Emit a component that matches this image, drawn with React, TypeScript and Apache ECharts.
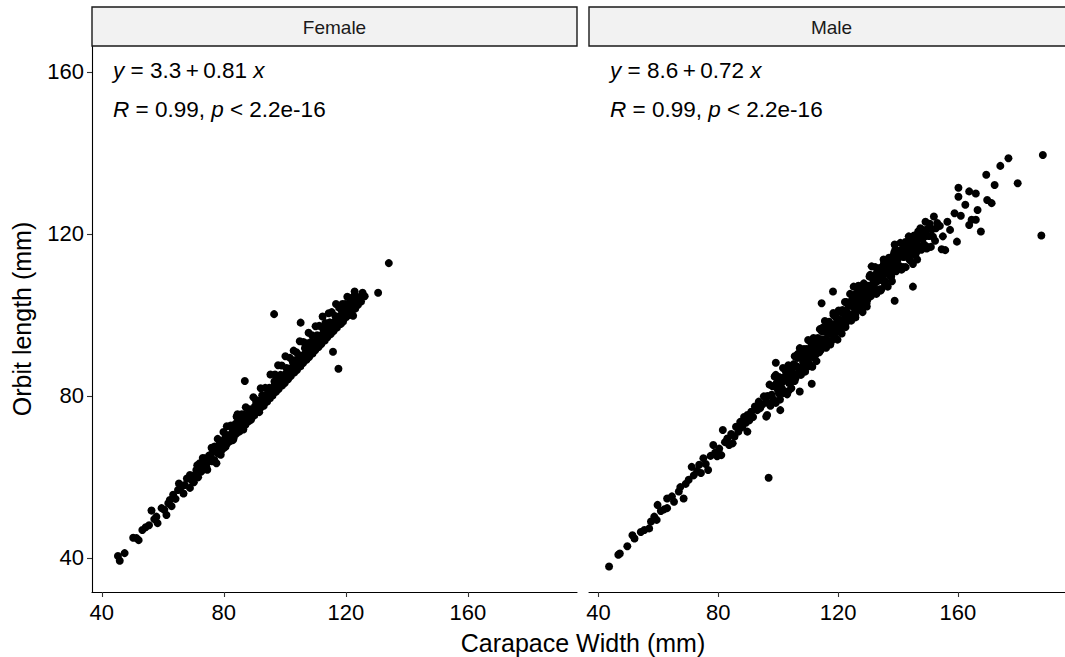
import React, { useEffect, useRef } from "react";
import * as echarts from "echarts";

const panels = ["Female", "Male"];
const xTicks = [40, 80, 120, 160];
const yTicks = [40, 80, 120, 160];
const intercepts = ["3.3", "8.6"];
const slopes = ["0.81", "0.72"];
const rValues = ["0.99", "0.99"];
const pValues = ["2.2e-16", "2.2e-16"];

const femalePoints: number[][] = [
  [45.3,40.5],[45.9,39.3],[47.5,41.2],[50.3,45.0],[51.4,44.9],[52.1,44.4],[53.3,46.9],[54.4,47.6],[55.5,48.1],[56.3,51.7],
  [57.2,49.6],[57.9,50.2],[58.3,48.6],[59.6,52.3],[60.5,51.9],[61.2,50.6],[61.8,53.5],[62.3,54.3],[62.9,52.8],[63.4,55.6],
  [64.2,54.6],[65.0,56.8],[65.3,58.4],[66.1,57.6],[66.8,55.9],[67.2,58.0],[67.9,59.6],[68.9,60.5],[68.9,57.3],[69.6,59.1],
  [70.3,60.4],[71.0,61.7],[71.6,59.9],[72.1,63.4],[72.8,61.6],[73.4,62.9],[73.8,64.6],[74.3,62.5],[74.9,63.8],[75.6,65.4],
  [76.2,63.9],[76.6,66.3],[77.0,67.5],[77.6,63.4],
  [78.2,65.8],[78.5,67.9],[78.7,68.9],[79.3,66.6],[79.6,68.8],[80.1,67.2],[80.4,69.5],[80.8,70.4],[81.2,68.3],[81.5,70.1],
  [82.1,68.9],[82.4,70.6],[82.7,72.0],[83.2,69.5],[83.5,71.8],[84.2,74.9],[84.0,70.6],[84.4,72.4],[84.7,74.3],[85.1,71.2],
  [85.6,73.4],[86.0,72.0],[86.3,74.0],[86.6,75.4],[86.9,83.7],[87.1,72.9],[87.5,74.8],[88.0,73.7],[88.3,75.9],[88.6,76.7],
  [89.1,74.5],[89.4,76.3],[90.0,75.2],[90.2,77.4],[90.6,78.6],[91.1,76.1],[91.4,78.0],[92.0,77.0],[92.3,78.8],[92.6,80.2],
  [93.1,77.6],[93.4,79.9],[94.0,78.6],[94.3,80.5],[94.6,81.8],[95.1,79.4],[95.5,81.6],[96.0,80.1],[96.3,82.2],[96.6,83.6],
  [96.5,100.2],[97.1,81.0],[97.4,83.1],[98.0,81.7],[98.2,83.9],[98.6,85.2],[99.1,82.6],[99.5,84.6],[100.0,83.2],[100.3,85.5],
  [100.6,86.9],[101.1,84.1],[101.4,86.4],[102.0,84.9],[102.3,87.0],[102.6,88.5],[103.1,85.8],[103.5,87.9],[104.0,86.4],[104.2,88.8],
  [104.6,90.1],[105.1,87.3],[105.2,98.1],[105.5,89.6],[106.0,88.1],[106.3,90.2],[106.6,91.8],[107.1,88.9],[107.5,91.1],[108.0,89.6],
  [108.2,92.0],[108.6,93.3],[109.1,90.5],[109.4,92.7],[110.0,91.3],[110.3,93.6],[110.6,95.0],[111.1,92.1],[111.5,94.2],[112.0,92.8],
  [112.2,95.1],[112.6,96.6],[113.1,93.7],[113.5,96.0],[114.0,94.5],[114.3,96.8],[114.6,98.1],[115.1,95.3],[115.5,97.4],[115.8,90.9],
  [116.0,96.0],[116.3,98.3],[116.6,99.7],[117.1,96.9],[117.4,99.1],[117.6,86.7],[118.0,97.7],[118.2,99.8],[118.6,101.2],[119.1,98.4],
  [119.5,100.6],[120.0,99.4],[120.3,101.3],[120.5,104.5],[120.6,102.6],[121.1,100.0],[121.5,102.2],[122.0,100.9],[122.4,99.8],[122.4,103.0],
  [122.9,105.8],[123.1,101.6],[123.5,103.7],[124.0,102.5],[124.4,104.4],[125.0,103.3],[125.5,105.5],[126.2,104.6],[130.6,105.5],[134.1,112.8],
  [70.2,58.7],[71.3,62.9],[72.5,61.3],[73.1,64.7],[74.6,61.8],[75.2,65.3],[76.0,67.2],[76.9,64.2],[77.3,66.3],[78.0,69.4],
  [79.0,65.5],[79.9,71.1],[80.6,67.5],[81.0,72.5],[81.8,69.8],[82.3,72.7],[83.0,69.1],[83.8,73.1],[84.5,75.5],[85.3,71.9],
  [85.9,75.5],[86.4,71.7],[87.2,77.2],[87.8,74.5],[88.4,76.4],[88.9,74.1],[89.7,79.7],[90.4,76.2],[90.9,78.9],[91.6,76.0],
  [92.1,81.9],[92.8,79.2],[93.6,82.0],[94.2,78.6],[94.9,82.0],[95.3,85.3],[95.8,81.4],[96.8,85.3],[97.3,81.7],[97.8,87.6],
  [98.4,84.6],[99.0,87.5],[99.8,84.0],[100.2,89.8],[100.9,86.2],[101.7,89.4],[102.1,85.6],[102.9,91.2],[103.3,88.8],[103.8,90.8],
  [104.4,88.0],[104.9,93.5],[105.7,89.9],[106.1,93.3],[106.8,89.5],[107.3,93.0],[107.8,95.6],[108.4,91.7],[108.9,95.0],[109.6,91.9],
  [110.1,97.2],[110.8,94.4],[111.3,97.3],[111.8,93.9],[112.4,99.6],[112.9,95.8],[113.3,98.0],[113.8,95.0],[114.4,100.4],[114.9,98.1],
  [115.4,100.7],[116.2,97.6],[116.8,102.7],[117.3,99.2],[117.8,101.8],[118.4,97.8],[118.9,102.7],[119.4,100.3],[119.8,102.7],[120.8,100.2],
  [121.3,104.2],[121.8,102.2],[122.7,104.6],[123.3,102.7]
];

const malePoints: number[][] = [
  [43.5,37.9],[46.6,40.8],[47.1,41.1],[49.6,42.9],[51.3,45.6],[52.0,44.8],[54.1,46.4],[55.3,46.9],[56.9,47.3],[57.5,49.0],
  [58.6,50.2],[59.4,49.4],[59.7,53.1],[60.8,51.6],[61.9,52.0],[62.9,52.3],[62.9,54.7],[64.5,55.2],[65.2,53.9],[66.8,56.4],
  [67.3,57.5],[68.4,54.7],[69.1,58.3],[70.1,59.3],[71.1,62.5],[71.8,60.4],[72.9,61.5],[73.6,63.0],[74.2,61.0],[75.0,64.6],
  [75.8,63.2],[76.6,61.7],[77.4,65.2],[78.3,67.9],[78.9,66.0],[79.6,65.1],[80.3,67.0],[81.0,65.4],[81.5,71.6],[82.2,68.6],
  [83.0,69.5],[83.6,67.9],[84.3,70.6],[84.8,68.3],[85.4,70.0],[85.9,72.4],[86.7,71.2],[87.3,73.6],[88.0,72.3],[88.6,74.8],
  [89.2,73.4],[89.7,75.3],[89.7,71.2],[90.4,74.0],[91.0,76.1],[91.6,74.8],[92.2,77.4],[93.0,76.5],[93.5,78.6],[94.0,77.0],
  [94.6,77.8],[95.2,79.9],[95.8,78.4],[96.3,75.3],[96.8,59.8],
  [96.0,74.9],[96.4,80.0],[96.7,78.3],[97.1,82.8],[97.4,77.6],[97.8,80.3],[98.1,82.4],[98.5,79.1],[98.8,84.8],[99.2,78.3],
  [99.5,83.2],[99.9,81.5],[100.2,84.7],[100.6,79.1],[100.9,83.5],[101.3,81.8],[101.6,86.9],[102.0,81.1],[102.3,84.2],[102.7,85.7],
  [103.0,80.4],[103.4,87.6],[103.7,84.3],[104.1,83.4],[104.4,81.9],[104.8,87.0],[105.1,85.3],[105.5,89.8],[105.8,84.5],[106.2,87.3],
  [106.5,89.4],[106.9,86.0],[107.2,91.8],[107.6,85.2],[107.9,90.1],[108.3,88.4],[108.6,91.6],[109.0,86.0],[109.3,90.3],[109.7,88.7],
  [110.0,93.8],[110.4,87.9],[110.7,91.1],[111.1,92.5],[111.4,87.2],[111.8,94.3],[112.1,91.1],[112.5,90.2],[112.8,88.6],[113.2,93.8],
  [113.5,92.0],[113.9,96.5],[114.2,91.3],[114.6,94.0],[114.9,96.1],[115.3,92.7],[115.6,98.5],[116.0,91.9],[116.3,96.8],[116.7,95.2],
  [117.0,98.3],[117.4,92.7],[117.7,97.1],[118.1,95.4],[118.4,100.5],[118.8,94.6],[119.1,97.8],[119.5,99.2],[119.8,93.9],[120.2,101.1],
  [120.5,97.8],[120.9,96.9],[121.2,95.4],[121.6,100.5],[121.9,98.7],[122.3,103.2],[122.6,98.0],[123.0,100.7],[123.3,102.8],[123.7,99.5],
  [124.0,105.2],[124.4,98.6],[124.7,103.6],[125.1,101.9],[125.4,105.0],[125.8,99.4],[126.1,103.8],[126.5,102.1],[126.8,107.2],[127.2,101.4],
  [127.5,104.5],[127.9,105.9],[128.2,100.7],[128.6,107.8],[128.9,104.5],[129.3,103.6],[129.6,102.1],[130.0,107.2],[130.3,105.4],[130.7,109.9],
  [131.0,104.7],[131.4,107.4],[131.7,109.5],[132.1,106.1],[132.4,111.8],[132.8,105.2],[133.1,110.2],[133.5,108.5],[133.8,111.6],[134.2,106.0],
  [134.5,110.3],[134.9,108.6],[135.2,113.7],[135.6,107.8],[135.9,110.9],[136.3,112.3],[136.6,107.0],[137.0,114.1],[137.3,110.8],[137.7,109.9],
  [138.0,108.3],[138.4,113.4],[138.7,111.6],[139.1,116.1],[139.4,110.8],[139.8,113.5],[140.1,115.6],[140.5,112.1],[140.8,117.8],[141.2,111.2],
  [141.5,116.1],[141.9,114.3],[142.2,117.4],[142.6,111.8],[142.9,116.1],[143.3,114.3],[143.6,119.4],[144.0,113.5],[144.3,116.6],[144.7,117.9],
  [145.0,112.6],[145.4,119.6],[145.7,116.3],[146.1,115.4],[146.4,113.7],[146.8,118.8],[147.1,117.0],[147.5,121.4],[147.8,116.1],[148.2,118.7],
  [148.5,120.8],[148.9,117.3],[149.2,123.0],[149.6,116.4],[149.9,121.2],[150.3,119.5],[150.6,122.5],[151.0,116.8],[151.3,121.1],[151.7,119.3],
  [152.0,124.3],[152.4,118.3],[152.7,121.4],[153.1,122.7],
  [100.5,83.0],[101.5,81.2],[102.5,86.3],[103.5,84.3],[104.5,86.9],[105.5,83.7],[106.5,90.3],[107.5,86.8],[108.5,88.9],[109.5,91.6],
  [110.5,87.4],[111.5,92.7],[112.5,92.8],[113.5,90.9],[114.5,96.0],[115.5,94.0],[116.5,96.5],[117.5,93.3],[118.5,99.9],[119.5,96.4],
  [120.5,98.5],[121.5,101.2],[122.5,97.0],[123.5,102.3],[124.5,102.4],[125.5,100.5],[126.5,105.6],[127.5,103.6],[128.5,106.1],[129.5,102.9],
  [130.5,109.5],[131.5,105.9],[132.5,108.0],[133.5,110.7],[134.5,106.4],[135.5,111.7],[136.5,111.7],[137.5,109.7],[138.5,114.7],[139.5,112.6],
  [140.5,114.9],[141.5,111.6],[142.5,118.0],[143.5,114.3],[144.5,116.3],
  [100.25,80.6],[100.75,84.5],[101.25,83.3],[101.75,80.7],[102.25,84.7],[102.75,83.8],[103.25,87.1],[103.75,83.1],[104.25,86.1],[104.75,84.9],
  [105.25,87.9],[105.75,84.4],[106.25,87.2],[106.75,90.4],[107.25,86.6],[107.75,89.5],[108.25,87.2],[108.75,91.1],[109.25,89.8],[109.75,87.2],
  [110.25,91.2],[110.75,90.3],[111.25,93.6],[111.75,89.5],[112.25,92.5],[112.75,91.3],[113.25,94.3],[113.75,90.8],[114.25,93.6],[114.75,96.8],
  [115.25,93.0],[115.75,95.9],[116.25,93.6],[116.75,97.5],[117.25,96.2],[117.75,93.6],[118.25,97.6],[118.75,96.7],[119.25,100.0],[119.75,95.9],
  [120.25,98.9],[120.75,97.7],[121.25,100.7],[121.75,97.2],[122.25,100.0],[122.75,103.2],[123.25,99.4],[123.75,102.3],[124.25,100.0],[124.75,103.9],
  [125.25,102.6],[125.75,100.0],[126.25,104.0],[126.75,103.1],[127.25,106.4],[127.75,102.3],[128.25,105.3],[128.75,104.1],[129.25,107.1],[129.75,103.6],
  [130.25,106.4],[130.75,109.6],[131.25,105.8],[131.75,108.6],[132.25,106.3],[132.75,110.2],[133.25,108.9],[133.75,106.3],[134.25,110.2],[134.75,109.3],
  [135.25,112.6],[135.75,108.4],[136.25,111.4],[136.75,110.1],[137.25,113.1],[137.75,109.5],[138.25,112.3],[138.75,115.4],[139.25,111.6],[139.75,114.4],
  [140.25,112.1],[140.75,115.9],[141.25,114.5],[141.75,111.8],[142.25,115.7],[142.75,114.8],[143.25,118.0],[143.75,113.8],[144.25,116.7],[144.75,115.4],
  [145.25,118.4],[145.75,114.8],[146.25,117.5],[146.75,120.6],[147.25,116.7],[147.75,119.5],[148.25,117.1],[148.75,120.9],[149.25,119.5],[149.75,116.8],
  [99.2,88.2],[99.2,85.2],[100.7,76.5],[103.4,81.2],[107.2,81.1],[111.2,83.0],[114.5,102.9],[118.3,105.8],[125.2,107.0],[131.2,112.0],
  [138.9,117.4],[138.9,103.5],[145.0,107.0],
  [154.0,122.0],[154.6,116.2],[155.0,119.4],[155.8,116.0],[156.5,123.0],[157.4,121.0],[158.9,125.1],[159.7,118.1],[160.2,131.4],[160.2,129.2],
  [161.0,124.5],[162.5,127.2],[163.8,130.5],[163.8,122.2],[164.6,123.5],[166.0,130.0],[166.0,123.5],[166.6,125.9],[167.7,120.6],[169.5,134.6],
  [169.8,128.4],[171.3,127.6],[172.3,132.1],[174.2,136.8],[176.9,138.7],[180.0,132.5],[187.9,119.6],[188.4,139.5]
];

const FONT = "'Liberation Sans', Arial, Helvetica, sans-serif";
const X_MIN = 36.8;
const X_MAX = 195.8;
const Y_MIN = 31.6;
const Y_MAX = 166.4;
const PANEL_LEFT = [92, 589];
const PANEL_W = 485;
const PANEL_TOP = 46;
const PANEL_H = 546;

export default function App() {
  const ref = useRef<HTMLDivElement>(null);
  useEffect(() => {
    if (!ref.current) return;
    const chart = echarts.init(ref.current, undefined, { renderer: "svg" });
    const grids = PANEL_LEFT.map((l) => ({ left: l, top: PANEL_TOP, width: PANEL_W, height: PANEL_H, containLabel: false }));
    const xAxes = PANEL_LEFT.map((_, i) => ({
      type: "value",
      gridIndex: i,
      min: X_MIN,
      max: X_MAX,
      splitLine: { show: false },
      axisLine: { show: true, onZero: false, lineStyle: { color: "#000", width: 1.1 } },
      axisTick: { show: true, customValues: xTicks, length: 5, lineStyle: { color: "#333", width: 1.1 } },
      axisLabel: { show: true, customValues: xTicks, margin: 9, fontSize: 22, color: "#000", fontFamily: FONT },
    }));
    const yAxes = PANEL_LEFT.map((_, i) => ({
      type: "value",
      gridIndex: i,
      min: Y_MIN,
      max: Y_MAX,
      splitLine: { show: false },
      axisLine: { show: i === 0, onZero: false, lineStyle: { color: "#000", width: 1.1 } },
      axisTick: { show: i === 0, customValues: yTicks, length: 5, lineStyle: { color: "#333", width: 1.1 } },
      axisLabel: { show: i === 0, customValues: yTicks, margin: 8, fontSize: 22, color: "#000", fontFamily: FONT },
    }));
    const data = [femalePoints, malePoints];
    const series = data.map((pts, i) => ({
      type: "scatter",
      xAxisIndex: i,
      yAxisIndex: i,
      data: pts,
      symbol: "circle",
      symbolSize: 8,
      itemStyle: { color: "#000", opacity: 1 },
      clip: false,
    }));
    const graphic: any[] = [];
    panels.forEach((name, i) => {
      graphic.push({
        type: "rect",
        shape: { x: PANEL_LEFT[i], y: 7, width: PANEL_W, height: 39 },
        style: { fill: "#f2f2f2", stroke: "#1a1a1a", lineWidth: 1.4 },
        z: 10,
      });
      graphic.push({
        type: "text",
        x: PANEL_LEFT[i] + PANEL_W / 2,
        y: 27,
        style: { text: name, fontSize: 19, fontFamily: FONT, fill: "#1a1a1a", align: "center", verticalAlign: "middle" },
        z: 11,
      });
      const rich = {
        i: { fontStyle: "italic", fontSize: 22.5, fontFamily: FONT, fill: "#000" },
        n: { fontSize: 22.5, fontFamily: FONT, fill: "#000" },
      };
      graphic.push({
        type: "text",
        x: PANEL_LEFT[i] + 21,
        y: 70,
        style: {
          text: `{i|y}{n| = ${intercepts[i]}\u2009+\u2009${slopes[i]} }{i|x}`,
          rich,
          fontSize: 22.5,
          fontFamily: FONT,
          fill: "#000",
          align: "left",
          verticalAlign: "middle",
        },
        z: 11,
      });
      graphic.push({
        type: "text",
        x: PANEL_LEFT[i] + 21,
        y: 109,
        style: {
          text: `{i|R}{n| = ${rValues[i]}, }{i|p}{n| < ${pValues[i]}}`,
          rich,
          fontSize: 22.5,
          fontFamily: FONT,
          fill: "#000",
          align: "left",
          verticalAlign: "middle",
        },
        z: 11,
      });
    });
    graphic.push({
      type: "text",
      x: 583,
      y: 643,
      style: { text: "Carapace Width (mm)", fontSize: 25, fontFamily: FONT, fill: "#000", align: "center", verticalAlign: "middle" },
    });
    graphic.push({
      type: "text",
      x: 22,
      y: 319,
      rotation: Math.PI / 2,
      style: { text: "Orbit length (mm)", fontSize: 25, fontFamily: FONT, fill: "#000", align: "center", verticalAlign: "middle" },
    });
    chart.setOption({
      animation: false,
      backgroundColor: "#fff",
      grid: grids,
      xAxis: xAxes,
      yAxis: yAxes,
      series,
      graphic,
    } as any);
    return () => chart.dispose();
  }, []);
  return (
    <div
      ref={ref}
      style={{ position: "fixed", left: 0, top: 0, width: 1065, height: 657, background: "#fff" }}
    />
  );
}
